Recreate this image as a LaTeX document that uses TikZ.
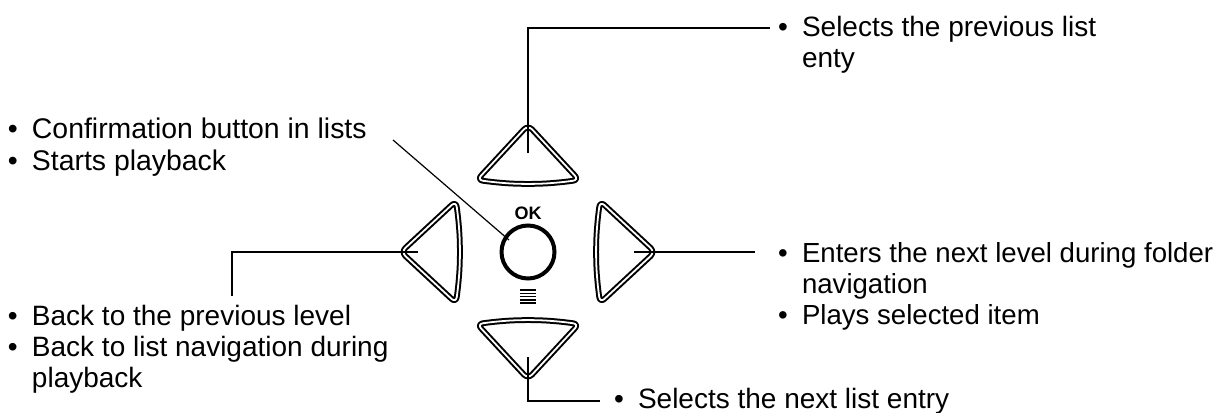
\documentclass[tikz,border=0pt]{standalone}
\usepackage{fontspec}
\setmainfont{Liberation Sans}
\newcommand\bitem{\makebox[12pt][l]{•}}
\tikzset{
  btn/.style={draw=black, line width=1pt, double=white, double distance=0.9pt, rounded corners=3pt, line join=round},
  conn/.style={draw=black, line width=0.6pt},
  lbl/.style={anchor=base west, inner sep=0pt, outer sep=0pt, font=\fontsize{14pt}{15.5pt}\selectfont},
}
\newcommand\arrowshape{(0,-127) -- (-51,-72) -- (-34,-69.8) -- (-17,-68.4) -- (0,-68) -- (17,-68.4) -- (34,-69.8) -- (51,-72) -- cycle}
\begin{document}
\begin{tikzpicture}[x=0.5pt,y=-0.5pt]
\useasboundingbox[fill=white] (0,0) rectangle (1218,412);
% buttons
\foreach \r in {0,90,180,270}{
  \begin{scope}[shift={(528,252)},rotate=\r]
    \path[btn] \arrowshape;
  \end{scope}
}
\node[circle, draw=black, line width=2pt, minimum size=26.5pt, inner sep=0pt] (ok) at (528,252) {};
\node[inner sep=0pt, font=\bfseries\fontsize{9pt}{10pt}\selectfont] (oklbl) at (528,213) {OK};
\foreach \yy in {290,293.25,296.5,299.75,303}{
  \draw[line width=0.75pt] (520,\yy) -- (536,\yy);
}
% texts
\node[lbl] (tl) at (8,138) {\fontsize{14.2pt}{16pt}\selectfont\begin{tabular}[t]{@{}l@{}l@{}}\bitem & Confirmation button in lists\\ \bitem & Starts playback\end{tabular}};
\node[lbl] (bl) at (8,325) {\begin{tabular}[t]{@{}l@{}l@{}}\bitem & Back to the previous level\\ \bitem & Back to list navigation during\\ & playback\end{tabular}};
\node[lbl] (rt) at (778,262) {\fontsize{13.8pt}{15.5pt}\selectfont\begin{tabular}[t]{@{}l@{}l@{}}\bitem & Enters the next level during folder\\ & navigation\\ \bitem & Plays selected item\end{tabular}};
\node[lbl] (tr) at (778,36) {\begin{tabular}[t]{@{}l@{}l@{}}\bitem & Selects the previous list\\ & enty\end{tabular}};
\node[lbl] (bt) at (614,408) {\begin{tabular}[t]{@{}l@{}l@{}}\bitem & Selects the next list entry\end{tabular}};
% connector coordinates
\coordinate (upin) at (528,153);
\coordinate (upk) at (528,28);
\coordinate (upend) at (770,28);
\coordinate (lfin) at (418,252);
\coordinate (lfk) at (232,252);
\coordinate (lfend) at (232,296);
\coordinate (rtin) at (634,252);
\coordinate (rtend) at (755,252);
\coordinate (dnin) at (528,357);
\coordinate (dnk) at (528,401);
\coordinate (dnend) at (600,401);
\coordinate (okin) at (509,240);
\coordinate (okend) at (393,140);
\draw[conn] (upin) -- (upk) -- (upend);
\draw[conn] (lfin) -- (lfk) -- (lfend);
\draw[conn] (rtin) -- (rtend);
\draw[conn] (dnin) -- (dnk) -- (dnend);
\draw[conn] (okin) -- (okend);
\end{tikzpicture}
\end{document}
